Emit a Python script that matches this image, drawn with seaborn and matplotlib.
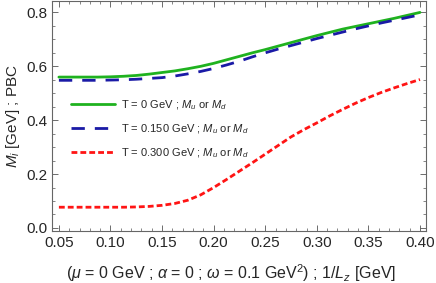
import numpy as np
import pandas as pd
import seaborn as sns
import matplotlib.pyplot as plt
from matplotlib.ticker import MultipleLocator

# 1/L_z values (GeV)
inv_lz = [0.05, 0.0625, 0.075, 0.0875, 0.10, 0.1125, 0.125, 0.1375, 0.15,
          0.1625, 0.175, 0.1875, 0.20, 0.2125, 0.225, 0.2375, 0.25, 0.2625,
          0.275, 0.2875, 0.30, 0.3125, 0.325, 0.3375, 0.35, 0.3625, 0.375,
          0.3875, 0.40]

# constituent masses (GeV)
m_t0 = [0.560, 0.560, 0.560, 0.560, 0.561, 0.563, 0.566, 0.571, 0.577,
        0.583, 0.591, 0.600, 0.611, 0.624, 0.637, 0.650, 0.662, 0.675,
        0.688, 0.701, 0.714, 0.726, 0.738, 0.748, 0.758, 0.768, 0.778,
        0.789, 0.800]
m_t150 = [0.548, 0.548, 0.548, 0.548, 0.549, 0.550, 0.552, 0.555, 0.558,
          0.564, 0.572, 0.581, 0.592, 0.605, 0.619, 0.635, 0.650, 0.664,
          0.677, 0.690, 0.703, 0.715, 0.727, 0.739, 0.750, 0.761, 0.771,
          0.781, 0.791]
m_t300 = [0.077, 0.077, 0.077, 0.077, 0.077, 0.077, 0.078, 0.080, 0.084,
          0.091, 0.103, 0.123, 0.150, 0.180, 0.211, 0.242, 0.274, 0.306,
          0.338, 0.365, 0.390, 0.416, 0.440, 0.463, 0.484, 0.503, 0.520,
          0.536, 0.551]

labels = ["T = 0 GeV ; $M_u$ or $M_d$",
          "T = 0.150 GeV ; $M_u$ or $M_d$",
          "T = 0.300 GeV ; $M_u$ or $M_d$"]

df = pd.DataFrame({
    "x": inv_lz * 3,
    "M": m_t0 + m_t150 + m_t300,
    "T": [labels[0]] * len(inv_lz) + [labels[1]] * len(inv_lz) + [labels[2]] * len(inv_lz),
})

sns.set_style("ticks")
plt.rcParams['font.family'] = ['Liberation Sans', 'DejaVu Sans']
plt.rcParams['mathtext.fontset'] = 'custom'
plt.rcParams['mathtext.it'] = 'Liberation Sans:italic'
plt.rcParams['mathtext.rm'] = 'Liberation Sans'

palette = {labels[0]: '#1fb21f', labels[1]: '#1a1aa6', labels[2]: '#ff1414'}
dashes = {labels[0]: "", labels[1]: (4.8, 3.6), labels[2]: (2.1, 1.1)}

fig, ax = plt.subplots(figsize=(4.36, 2.83), dpi=100)
sns.lineplot(data=df, x="x", y="M", hue="T", style="T", palette=palette,
             dashes=dashes, linewidth=2.0, ax=ax)

ax.set_xlim(0.0432, 0.4058)
ax.set_ylim(-0.011, 0.844)
ax.xaxis.set_major_locator(MultipleLocator(0.05))
ax.xaxis.set_minor_locator(MultipleLocator(0.01))
ax.yaxis.set_major_locator(MultipleLocator(0.2))
ax.yaxis.set_minor_locator(MultipleLocator(0.05))
ax.xaxis.set_major_formatter(plt.FuncFormatter(lambda v, p: f"{v:.2f}"))
ax.yaxis.set_major_formatter(plt.FuncFormatter(lambda v, p: f"{v:.1f}"))
ax.tick_params(which='both', direction='in', top=True, right=True,
               labelsize=11, color='#555555')
ax.tick_params(which='major', length=4, width=0.6)
ax.tick_params(which='minor', length=2, width=0.5)
for s in ax.spines.values():
    s.set_color('#666666')
    s.set_linewidth(0.8)

ax.set_xlabel(r"($\mu$ = 0 GeV ; $\alpha$ = 0 ; $\omega$ = 0.1 GeV$^2$) ; 1/$L_z$ [GeV]",
              fontsize=11.5)
ax.xaxis.set_label_coords(0.48, -0.135)
ax.set_ylabel(r"$M_i$ [GeV] ; PBC", fontsize=11, labelpad=3)

ax.legend(loc='upper left', bbox_to_anchor=(0.025, 0.62), frameon=False,
          fontsize=8, handlelength=3.9, handletextpad=0.6, labelspacing=0.95)

fig.subplots_adjust(left=0.119, right=0.977, top=0.998, bottom=0.184)
fig.savefig("out.png", dpi=100)
